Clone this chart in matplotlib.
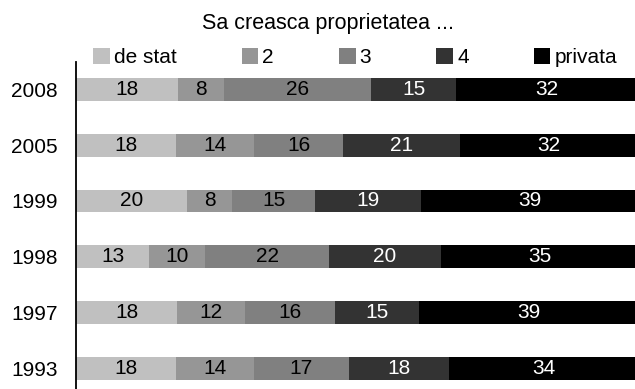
import matplotlib.pyplot as plt
import numpy as np

plt.rcParams['font.family'] = ['Liberation Sans', 'DejaVu Sans']

# survey years, top row first
years = ["2008", "2005", "1999", "1998", "1997", "1993"]
series = ["de stat", "2", "3", "4", "privata"]

de_stat = [18, 18, 20, 13, 18, 18]
s2 = [8, 14, 8, 10, 12, 14]
s3 = [26, 16, 15, 22, 16, 17]
s4 = [15, 21, 19, 20, 15, 18]
privata = [32, 32, 39, 35, 39, 34]

colors = ["#c0c0c0", "#969696", "#808080", "#333333", "#000000"]
text_colors = ["black", "black", "black", "white", "white"]

W, H = 635, 389
fig = plt.figure(figsize=(W / 100, H / 100), dpi=100)
ax = fig.add_axes([76 / W, -7 / H, 562 / W, (396 - 61.6) / H])

data = np.array([de_stat, s2, s3, s4, privata], dtype=float)
# 100% stacked: each row is scaled to its own total
shares = data / data.sum(axis=0) * 100

y = np.arange(len(years))
left = np.zeros(len(years))
for name, vals, pct, col, tcol in zip(series, data, shares, colors, text_colors):
    bars = ax.barh(y, pct, left=left, height=0.41, color=col, label=name)
    ax.bar_label(bars, labels=[f"{v:.0f}" for v in vals], label_type="center",
                 color=tcol, fontsize=15)
    left += pct

ax.set_xlim(0, 100)
ax.set_ylim(5.5, -0.5)
ax.set_yticks(y)
ax.set_yticklabels(years, fontsize=15)
ax.tick_params(axis="y", length=0, pad=13)
ax.set_xticks([])
for side in ["top", "right", "bottom"]:
    ax.spines[side].set_visible(False)
ax.spines["left"].set_linewidth(1.3)

fig.text(328 / W, 1 - 23 / H, "Sa creasca proprietatea ...", ha="center",
         va="center", fontsize=15.5)

handles, labels = ax.get_legend_handles_labels()
fig.legend(handles, labels, ncol=5, loc="center left",
           bbox_to_anchor=(93 / W, 1 - 57.5 / H), frameon=False,
           borderpad=0, borderaxespad=0, handlelength=0.8, handleheight=0.8,
           handletextpad=0.2, columnspacing=3.12, fontsize=15)

fig.savefig("out.png", dpi=100)
